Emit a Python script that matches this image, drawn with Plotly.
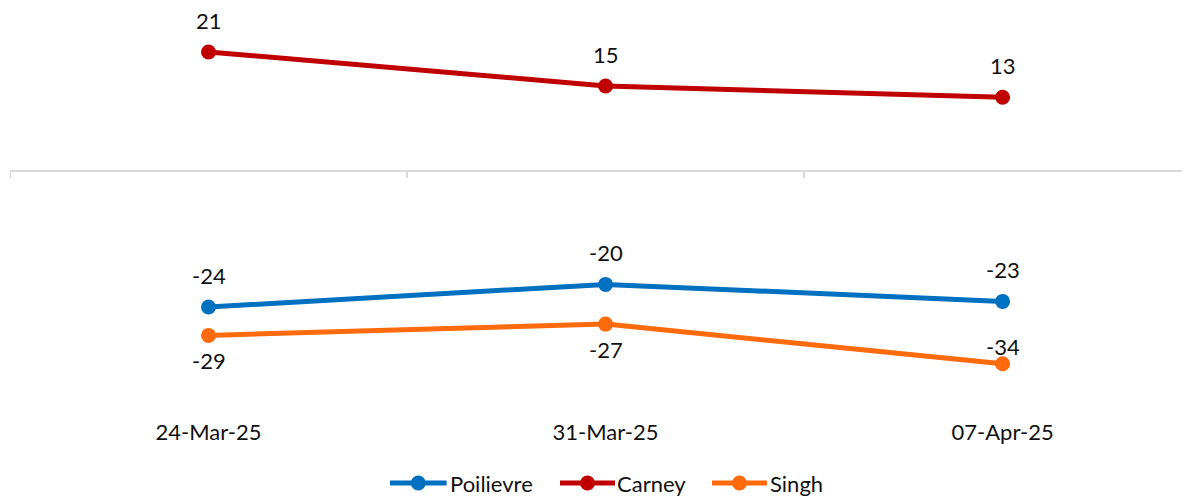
import plotly.graph_objects as go

categories = ["24-Mar-25", "31-Mar-25", "07-Apr-25"]
poilievre = [-24, -20, -23]
carney = [21, 15, 13]
singh = [-29, -27, -34]

FONT = "Lato"
TXT = "#111111"
# (name, values, colour, label y-shifts in px)
series = [
    ("Poilievre", poilievre, "#0070C0", [32, 32, 32]),
    ("Carney", carney, "#C00000", [32, 32, 32]),
    ("Singh", singh, "#FF6A0D", [-25, -25, 18]),
]
# custom legend layout (paper coordinates): line start, line end, text start
legend_pos = [(0.322, 0.370, 0.3715), (0.4661, 0.5127, 0.513), (0.5949, 0.6415, 0.642)]
LEG_Y = -0.1614

W, H = 1182, 488
xs = list(range(len(categories)))
fig = go.Figure()
annotations = []
shapes = [dict(type="line", xref="x", yref="y", x0=-0.5, x1=len(categories) - 0.5,
               y0=0, y1=0, line=dict(color="#D9D9D9", width=2), layer="below")]
for i in range(len(categories) + 1):
    shapes.append(dict(type="line", xref="x", yref="y", ysizemode="pixel", yanchor=0,
                       x0=i - 0.5, x1=i - 0.5, y0=0, y1=-7,
                       line=dict(color="#D9D9D9", width=2), layer="below"))

for (name, vals, color, shifts), (lx0, lx1, tx) in zip(series, legend_pos):
    fig.add_trace(go.Scatter(
        x=xs, y=vals, name=name, mode="lines+markers",
        line=dict(color=color, width=5),
        marker=dict(color=color, size=15),
        showlegend=False,
    ))
    for x, v, s in zip(xs, vals, shifts):
        annotations.append(dict(
            x=x, y=v, xref="x", yref="y", text=str(v), showarrow=False,
            yshift=s, height=22, borderpad=0,
            font=dict(family=FONT, size=22, color=TXT),
        ))
    # legend entry
    shapes.append(dict(type="line", xref="paper", yref="paper", x0=lx0, x1=lx1,
                       y0=LEG_Y, y1=LEG_Y, line=dict(color=color, width=5)))
    mx = (lx0 + lx1) / 2
    shapes.append(dict(type="circle", xref="paper", yref="paper",
                       xsizemode="pixel", ysizemode="pixel", xanchor=mx, yanchor=LEG_Y,
                       x0=-7.5, x1=7.5, y0=-7.5, y1=7.5,
                       fillcolor=color, line=dict(color=color, width=0)))
    annotations.append(dict(x=tx, y=LEG_Y, xref="paper", yref="paper", text=name,
                            showarrow=False, xanchor="left", yanchor="middle",
                            font=dict(family=FONT, size=22, color=TXT)))

fig.update_layout(
    width=W, height=H,
    margin=dict(l=2, r=0, t=0, b=79),
    paper_bgcolor="white", plot_bgcolor="white",
    font=dict(family=FONT, size=22, color=TXT),
    xaxis=dict(range=[-0.5, 2.472], tickvals=xs, ticktext=categories,
               showgrid=False, zeroline=False, showline=False, ticks="",
               tickfont=dict(family=FONT, size=22, color=TXT)),
    yaxis=dict(range=[-43.39, 28.75], visible=False, showgrid=False, zeroline=False),
    showlegend=False,
    annotations=annotations, shapes=shapes,
)
fig.write_html("out.html")
